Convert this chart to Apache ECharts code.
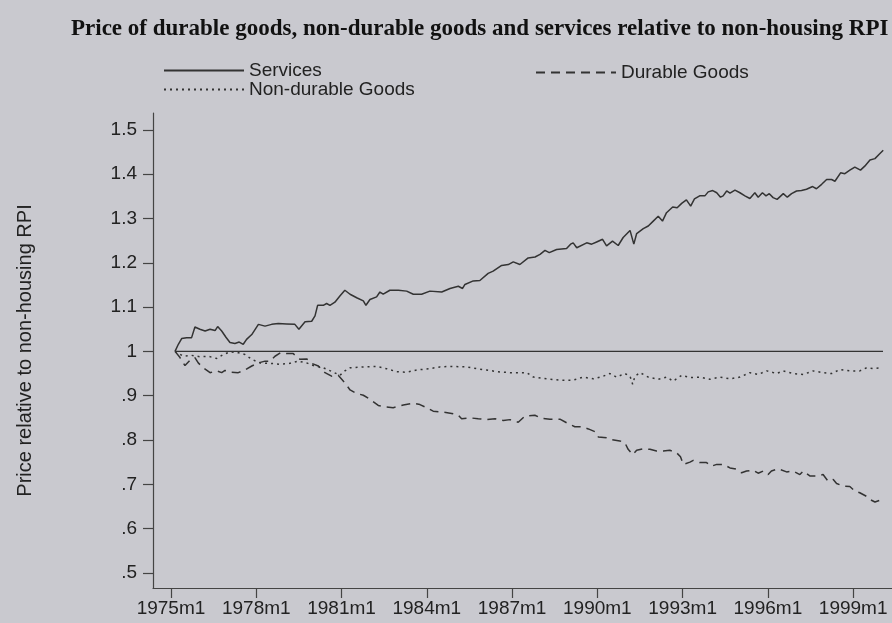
<!DOCTYPE html>
<html>
<head>
<meta charset="utf-8">
<title>Relative prices</title>
<script src="https://cdn.jsdelivr.net/npm/echarts@6/dist/echarts.min.js"></script>
<style>
  html, body { margin: 0; padding: 0; background: #c9c9cf; }
  #chart { width: 892px; height: 623px; }
</style>
</head>
<body>
<div id="chart"></div>
<script>
// month index counted from 1975m1, value = price relative to non-housing RPI
var servicesData = [
  [1.7, 1.0], [3.1, 1.016], [4.5, 1.029], [6.6, 1.031], [8.7, 1.031], [10.1, 1.055], [12.2, 1.05], [14.4, 1.046],
  [16.5, 1.05], [18.6, 1.047], [19.7, 1.056], [21.4, 1.046], [23.2, 1.032], [24.9, 1.02], [27, 1.018], [28.8, 1.021],
  [30.5, 1.016], [31.9, 1.027], [34.1, 1.038], [36.9, 1.061], [39.7, 1.057], [42.5, 1.061], [45.3, 1.063], [48.8, 1.062],
  [52.3, 1.061], [54, 1.05], [56.6, 1.067], [59.4, 1.068], [60.8, 1.08], [61.9, 1.104], [64.3, 1.104], [65.7, 1.108],
  [67.1, 1.104], [69.2, 1.111], [71.3, 1.125], [73.4, 1.138], [75.6, 1.129], [78.4, 1.121], [81.2, 1.114], [82.3, 1.104],
  [84, 1.117], [86.8, 1.123], [88.2, 1.134], [89.6, 1.129], [92.4, 1.138], [96, 1.138], [99.5, 1.136], [102.3, 1.129],
  [105.8, 1.129], [109.3, 1.136], [114.3, 1.134], [117.8, 1.142], [121.3, 1.147], [123.1, 1.142], [124.1, 1.151], [127.6, 1.159],
  [130.4, 1.16], [133.9, 1.176], [136, 1.181], [139.6, 1.194], [142.4, 1.196], [144.5, 1.202], [147.3, 1.196], [150.8, 1.211],
  [153.7, 1.213], [155.8, 1.219], [157.9, 1.228], [159.7, 1.223], [162.8, 1.23], [167, 1.232], [168.7, 1.242], [169.8, 1.245],
  [171.3, 1.234], [175.5, 1.245], [177.6, 1.242], [179.7, 1.247], [182.2, 1.253], [183.9, 1.238], [186.4, 1.249], [188.8, 1.239],
  [190.9, 1.257], [193.8, 1.273], [194.5, 1.272], [195.4, 1.242], [196.6, 1.266], [199.4, 1.277], [201.5, 1.283], [203.6, 1.294],
  [205.7, 1.305], [207.5, 1.294], [209.2, 1.313], [211.8, 1.326], [213.7, 1.324], [215.6, 1.334], [217.6, 1.342], [219.4, 1.328],
  [221, 1.344], [223.2, 1.351], [225.4, 1.351], [226.8, 1.36], [228.7, 1.363], [230.4, 1.358], [232, 1.348], [233.1, 1.351],
  [234.6, 1.362], [236, 1.357], [238.1, 1.364], [240.2, 1.358], [242.3, 1.351], [244.4, 1.345], [246.5, 1.358], [247.9, 1.348],
  [249.7, 1.358], [251.2, 1.351], [252.6, 1.356], [254.2, 1.347], [255.9, 1.343], [258.5, 1.356], [260.2, 1.348], [262, 1.356],
  [264.1, 1.362], [266.2, 1.363], [268.3, 1.366], [270.9, 1.372], [272.5, 1.367], [274.7, 1.377], [276.8, 1.388], [278.9, 1.388],
  [280.3, 1.384], [282.7, 1.403], [284.5, 1.401], [286.6, 1.409], [288.7, 1.416], [291.1, 1.409], [292.9, 1.418], [295.1, 1.432],
  [297.2, 1.435], [299, 1.445], [300.7, 1.454]
]

var nonDurableData = [
  [1.7, 1.0], [5.2, 0.989], [8.7, 0.991], [12.2, 0.988], [15.7, 0.989], [19.3, 0.984], [22.1, 0.993], [24.9, 0.999],
  [28.4, 0.997], [31.2, 0.993], [34.1, 0.982], [37.6, 0.974], [41.8, 0.973], [46, 0.971], [50.2, 0.973], [53.7, 0.978],
  [57.3, 0.974], [60.1, 0.968], [64.3, 0.963], [67.8, 0.955], [71.3, 0.946], [73.4, 0.956], [75.6, 0.963], [81.2, 0.965],
  [86.8, 0.966], [91, 0.961], [95.3, 0.954], [99.5, 0.953], [103.7, 0.958], [109.3, 0.961], [113.5, 0.965], [118, 0.966],
  [124.8, 0.965], [129, 0.961], [133.3, 0.958], [138, 0.954], [143.1, 0.952], [150.2, 0.952], [153, 0.942], [158.6, 0.938],
  [164.2, 0.935], [169.8, 0.935], [174, 0.942], [178.3, 0.938], [182.5, 0.944], [185.3, 0.95], [188.1, 0.942], [191.6, 0.95],
  [193.8, 0.944], [194.9, 0.926], [195.9, 0.944], [198, 0.952], [201.5, 0.942], [205.7, 0.937], [209.2, 0.942], [212, 0.933],
  [215.6, 0.946], [219.1, 0.941], [223.3, 0.942], [227.5, 0.937], [231.7, 0.942], [236, 0.938], [240.2, 0.942], [244.4, 0.952],
  [247.9, 0.948], [251.5, 0.956], [255.7, 0.95], [258.5, 0.956], [262.7, 0.95], [266.9, 0.948], [271.1, 0.956], [275.3, 0.952],
  [278.9, 0.95], [282.4, 0.959], [286.6, 0.956], [290.8, 0.956], [293.7, 0.963], [296.5, 0.961], [300, 0.963]
]

var durableData = [
  [1.7, 1.0], [3.8, 0.986], [5.9, 0.968], [8, 0.98], [10.1, 0.986], [11.5, 0.974], [13.6, 0.963], [16.5, 0.952],
  [19.3, 0.956], [21.4, 0.952], [22.8, 0.957], [25.6, 0.953], [28.4, 0.952], [31.2, 0.958], [34.1, 0.967], [36.9, 0.974],
  [39.7, 0.978], [41.8, 0.978], [43.9, 0.989], [46.3, 0.997], [48.8, 0.995], [51.6, 0.995], [54.5, 0.982], [57.3, 0.983],
  [59.4, 0.973], [62.2, 0.967], [65, 0.952], [67.8, 0.944], [70.6, 0.946], [73.4, 0.929], [75.6, 0.913], [78.4, 0.905],
  [81.2, 0.901], [84, 0.892], [87.5, 0.878], [90.3, 0.875], [93.8, 0.873], [98.1, 0.879], [102.3, 0.883], [105.1, 0.88],
  [107.9, 0.873], [110.7, 0.865], [114.9, 0.863], [118.5, 0.86], [121.3, 0.856], [122.7, 0.848], [126.2, 0.85], [129.7, 0.848],
  [133.3, 0.846], [136.8, 0.848], [140.3, 0.844], [143.1, 0.846], [146.6, 0.84], [149.4, 0.854], [153.6, 0.856], [156.5, 0.849],
  [160, 0.847], [164.2, 0.847], [167.7, 0.837], [170.5, 0.83], [173.3, 0.83], [176.2, 0.825], [179.4, 0.818], [180.4, 0.807],
  [183.9, 0.805], [186, 0.801], [189.5, 0.798], [191.6, 0.794], [193, 0.779], [194.9, 0.767], [196.6, 0.777], [199.4, 0.78],
  [202.2, 0.779], [205, 0.775], [207.8, 0.775], [210.6, 0.777], [213.5, 0.771], [215.1, 0.762], [216.3, 0.745], [219.1, 0.75],
  [220.5, 0.754], [223.3, 0.749], [226.1, 0.749], [228.2, 0.741], [230.4, 0.745], [233.2, 0.745], [236, 0.737], [238.8, 0.734],
  [240.9, 0.726], [243, 0.73], [245.8, 0.732], [247.9, 0.725], [250, 0.73], [252.1, 0.722], [253.5, 0.73], [256.3, 0.735],
  [259.9, 0.728], [262.7, 0.73], [265.5, 0.722], [266.9, 0.73], [269.7, 0.719], [272.6, 0.719], [275.3, 0.722], [277.4, 0.707],
  [279.6, 0.711], [281, 0.702], [283.8, 0.696], [286.6, 0.695], [288.7, 0.685], [290.8, 0.681], [293.6, 0.673], [295, 0.666],
  [297.2, 0.66], [299.3, 0.664]
]

// reference line at 1 over the sample
var baseLineData = [[1.7, 1], [300.6, 1]]

var xTicks = [0, 36, 72, 108, 144, 180, 216, 252, 288] // 1975m1 ... 1999m1
var yTicks = [0.5, 0.6, 0.7, 0.8, 0.9, 1, 1.1, 1.2, 1.3, 1.4, 1.5]

var ink = '#333'
var sans = 'Liberation Sans, Arial, sans-serif'

var chart = echarts.init(document.getElementById('chart'), null, { renderer: 'canvas' })
chart.setOption({
  backgroundColor: '#c9c9cf',
  animation: false,
  title: {
    text: 'Price of durable goods, non-durable goods and services relative to non-housing RPI',
    left: 66,
    top: 13,
    textStyle: {
      fontFamily: 'Liberation Serif, Times New Roman, serif',
      fontWeight: 'bold',
      fontSize: 23,
      color: '#111'
    }
  },
  legend: [{
    data: ['Services', 'Non-durable Goods'],
    orient: 'vertical',
    left: 158,
    top: 56,
    itemWidth: 80,
    itemHeight: 12,
    itemGap: 0,
    itemStyle: { opacity: 0 },
    textStyle: { fontFamily: sans, fontSize: 19, color: '#222' }
  }, {
    data: ['Durable Goods'],
    left: 530,
    top: 58,
    itemWidth: 80,
    itemHeight: 12,
    itemStyle: { opacity: 0 },
    textStyle: { fontFamily: sans, fontSize: 19, color: '#222' }
  }],
  grid: {
    left: 153,
    right: 0,
    top: 113,
    bottom: 35
  },
  xAxis: {
    type: 'value',
    min: -7.6,
    max: 304.4,
    axisLine: { onZero: false, lineStyle: { color: '#444', width: 1.2 } },
    axisTick: { show: true, length: 10, customValues: xTicks, lineStyle: { color: '#444', width: 1.2 } },
    axisLabel: {
      customValues: xTicks,
      margin: 11,
      fontFamily: sans,
      fontSize: 19,
      color: '#222',
      formatter: function(v) {
        return (1975 + Math.round(v / 12)) + 'm1'
      }
    },
    splitLine: { show: false }
  },
  yAxis: {
    type: 'value',
    min: 0.466,
    max: 1.538,
    name: 'Price relative to non-housing RPI',
    nameLocation: 'middle',
    nameGap: 118,
    nameTextStyle: { fontFamily: sans, fontSize: 20, color: '#222' },
    axisLine: { show: true, onZero: false, lineStyle: { color: '#444', width: 1.2 } },
    axisTick: { show: true, length: 10, customValues: yTicks, lineStyle: { color: '#444', width: 1.2 } },
    axisLabel: {
      customValues: yTicks,
      margin: 16,
      fontFamily: sans,
      fontSize: 19,
      color: '#222',
      formatter: function(v) {
        var s = (Math.round(v * 10) / 10).toString()
        return s.replace(/^0\./, '.')
      }
    },
    splitLine: { show: false }
  },
  series: [{
    name: 'Services',
    type: 'line',
    data: servicesData,
    symbol: 'none',
    lineStyle: { color: ink, width: 1.5 },
    itemStyle: { color: ink }
  }, {
    name: 'Non-durable Goods',
    type: 'line',
    data: nonDurableData,
    symbol: 'none',
    lineStyle: { color: ink, width: 1.5, type: [2, 4] },
    itemStyle: { color: ink }
  }, {
    name: 'Durable Goods',
    type: 'line',
    data: durableData,
    symbol: 'none',
    lineStyle: { color: ink, width: 1.5, type: [9, 6] },
    itemStyle: { color: ink }
  }, {
    name: 'base',
    type: 'line',
    data: baseLineData,
    symbol: 'none',
    lineStyle: { color: ink, width: 1.3 },
    silent: true
  }]
})
</script>
</body>
</html>
